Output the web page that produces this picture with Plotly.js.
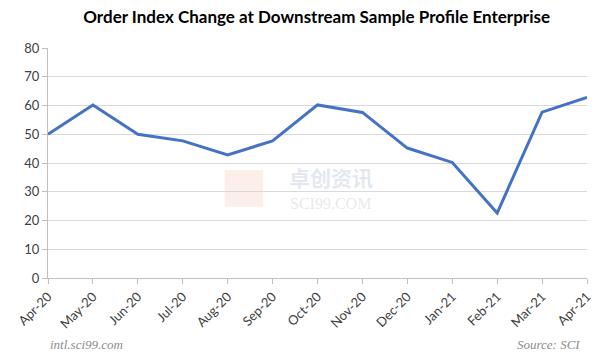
<!DOCTYPE html>
<html><head><meta charset="utf-8">
<script src="https://cdn.plot.ly/plotly-3.0.1.min.js"></script>
<style>body{margin:0;background:#fff}#c{width:609px;height:364px}</style>
</head><body><div id="c"></div>
<script>
const months = ["Apr-20","May-20","Jun-20","Jul-20","Aug-20","Sep-20","Oct-20","Nov-20","Dec-20","Jan-21","Feb-21","Mar-21","Apr-21"];
const orderIndex = [50, 60.2, 50, 47.7, 42.8, 47.7, 60.2, 57.6, 45.2, 40.2, 22.6, 57.7, 62.8];
const yTicks = [0,10,20,30,40,50,60,70,80];

const trace = {x: months, y: orderIndex, type:"scatter", mode:"lines",
  line:{color:"#4472C4", width:3}, hoverinfo:"x+y"};

const layout = {
  width:609, height:364,
  margin:{l:48, r:22, t:48, b:86},
  paper_bgcolor:"#fff", plot_bgcolor:"#fff",
  showlegend:false,
  title:{text:"<b>Order Index Change at Downstream Sample Profile Enterprise</b>",
    font:{family:"Lato, Calibri, sans-serif", size:17, color:"#000"}, x:0.52, xanchor:"center", y:0.952, yanchor:"middle"},
  xaxis:{type:"category", range:[0,12], tickvals:months, ticktext:months, tickangle:-45,
    showgrid:false, showline:true, linecolor:"#bfbfbf", linewidth:1,
    ticks:"outside", ticklen:5, tickcolor:"#bfbfbf",
    tickfont:{family:"Lato, Calibri, sans-serif", size:13, color:"#404040"}, fixedrange:true},
  yaxis:{range:[0,80], tickvals:yTicks, showgrid:true, gridcolor:"#d9d9d9", gridwidth:1,
    showline:true, linecolor:"#bfbfbf", ticks:"outside", ticklen:5, tickcolor:"#bfbfbf",
    zeroline:false, tickfont:{family:"Lato, Calibri, sans-serif", size:13, color:"#404040"}, fixedrange:true},
  shapes:[
    {type:"rect", xref:"paper", yref:"paper", x0:0.328, x1:0.399, y0:0.31, y1:0.47,
     line:{width:0}, fillcolor:"rgba(245,200,180,0.3)", layer:"below"}
  ],
  annotations:[
    {xref:"paper", yref:"paper", x:0.525, y:0.437, yanchor:"middle", text:"<b>卓创资讯</b>", showarrow:false,
     font:{family:"Noto Sans CJK SC", size:21, color:"rgba(200,210,225,0.5)"}},
    {xref:"paper", yref:"paper", x:0.525, y:0.324, yanchor:"middle", text:"SCI99.COM", showarrow:false,
     font:{family:"Liberation Serif", size:16, color:"rgba(200,205,215,0.45)"}},
    {xref:"paper", yref:"paper", x:0.0, y:-0.29, xanchor:"left", yanchor:"middle", text:"<i>intl.sci99.com</i>", showarrow:false,
     font:{family:"Liberation Serif", size:13, color:"#8c8c8c"}},
    {xref:"paper", yref:"paper", x:0.99, y:-0.29, xanchor:"right", yanchor:"middle", text:"<i>Source: SCI</i>", showarrow:false,
     font:{family:"Liberation Serif", size:13, color:"#8c8c8c"}}
  ]
};
Plotly.newPlot("c",[trace],layout,{displayModeBar:false, staticPlot:true});
</script></body></html>
